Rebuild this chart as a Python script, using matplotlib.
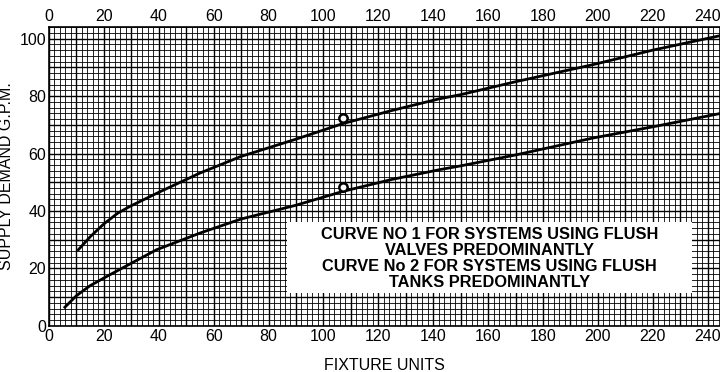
import matplotlib
matplotlib.use('Agg')
import matplotlib.pyplot as plt
import numpy as np
from matplotlib.patches import Rectangle

plt.rcParams['font.family'] = ['Liberation Sans', 'DejaVu Sans']

# curve 1: flush valves, curve 2: flush tanks
curve1_x = [10.7, 15, 20, 25, 29.5, 40, 55, 70, 90, 107, 125, 142, 150, 170, 198, 220, 244.4]
curve1_y = [26.5, 31, 35.5, 39.2, 41.6, 46.5, 53.2, 59, 65, 70.4, 75, 79, 80.5, 85, 90.9, 96, 101]
curve2_x = [5.8, 10, 15, 22.2, 30, 39.2, 55, 70, 90, 107, 125, 142.4, 150, 170, 198.2, 220, 244.4]
curve2_y = [6.5, 10.5, 14, 17.8, 21.8, 26.5, 32.3, 37.2, 42, 46.8, 51, 54.4, 55.7, 59.5, 65.4, 69.3, 73.9]
marker_x = [107, 107]
marker_y = [72.4, 48.2]

note_lines = ['CURVE NO 1 FOR SYSTEMS USING FLUSH',
              'VALVES PREDOMINANTLY',
              'CURVE No 2 FOR SYSTEMS USING FLUSH',
              'TANKS PREDOMINANTLY']
xticks = list(range(0, 241, 20))
yticks = list(range(0, 101, 20))

fig = plt.figure(figsize=(7.2, 3.72), dpi=100)
ax = fig.add_axes([0.068, 0.124, 0.932, 0.803])
ax.set_xlim(0, 244.5)
ax.set_ylim(0, 104)

# graph-paper grid
for v in np.arange(0, 246, 2):
    ax.axvline(v, color='black', lw=1.0 if v % 10 == 0 else 0.6, zorder=1)
for v in np.arange(0, 105, 2):
    ax.axhline(v, color='black', lw=1.0 if v % 10 == 0 else 0.6, zorder=1)

ax.plot(curve1_x, curve1_y, color='black', lw=2.0, zorder=3)
ax.plot(curve2_x, curve2_y, color='black', lw=2.0, zorder=3)
ax.plot(marker_x, marker_y, 'o', ms=6, mfc='white', mec='black', mew=1.8, zorder=4)

ax.add_patch(Rectangle((86.7, 11.5), 147.5, 24.5, facecolor='white', edgecolor='none', zorder=5))
ax.text(160.5, 23.6, '\n'.join(note_lines), ha='center', va='center',
        fontsize=11.8, fontweight='bold', linespacing=1.08, zorder=6)

ax.set_xticks(xticks)
ax.set_yticks(yticks)
ax.tick_params(axis='both', length=0, labelsize=11.5, pad=2,
               top=True, labeltop=True)
for s in ax.spines.values():
    s.set_linewidth(1.2)
ax.spines['right'].set_visible(False)

ax.set_xlabel('FIXTURE UNITS', fontsize=11.5, labelpad=10)
ax.set_ylabel('SUPPLY DEMAND G.P.M.', fontsize=11.5, labelpad=4)

fig.savefig('out.png', dpi=100)
